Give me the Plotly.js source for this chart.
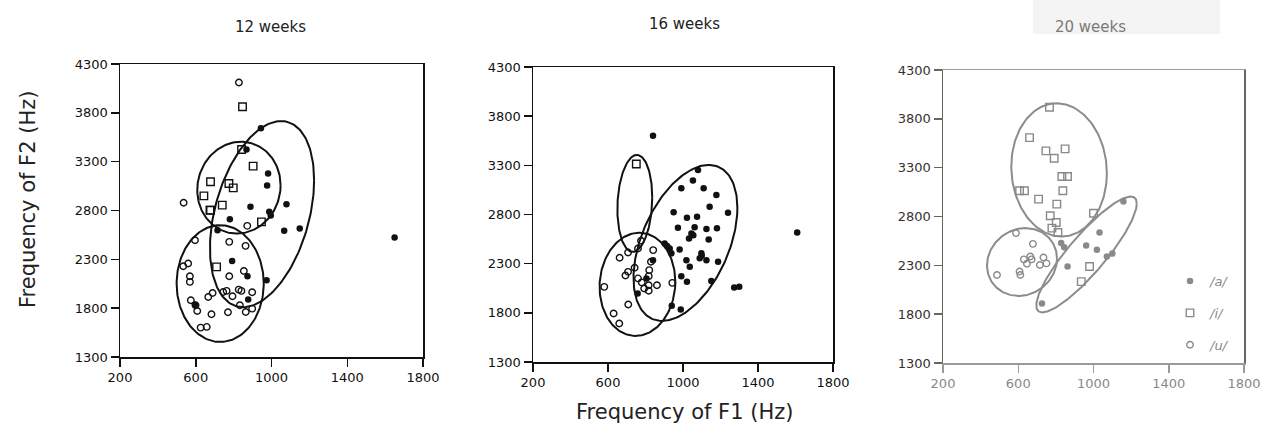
<!DOCTYPE html>
<html>
<head>
<meta charset="utf-8">
<script src="https://cdn.plot.ly/plotly-3.0.1.min.js"></script>
<style>
  html, body { margin: 0; padding: 0; background: #ffffff; }
  #chart { width: 1274px; height: 438px; }
</style>
</head>
<body>
<div id="chart"></div>
<script>
// ---------- DATA ----------
const panelTitles = ["12 weeks", "16 weeks", "20 weeks"];
const vowelNames = ["/a/", "/i/", "/u/"];
const f1TickVals = [200, 600, 1000, 1400, 1800];
const f2TickVals = [1300, 1800, 2300, 2800, 3300, 3800, 4300];

// 12 weeks
const a12F1 = [944, 868, 982, 977, 889, 1079, 988, 780, 715, 1067, 1149, 1650, 792, 873, 974, 877, 596, 996];
const a12F2 = [3641, 3425, 3179, 3056, 2838, 2865, 2786, 2711, 2598, 2592, 2615, 2523, 2284, 2127, 2086, 1888, 1836, 2750];
const i12F1 = [847, 842, 903, 678, 643, 775, 798, 740, 678, 947, 675, 710];
const i12F2 = [3863, 3425, 3254, 3094, 2950, 3077, 3032, 2855, 2803, 2684, 2804, 2223];
const u12F1 = [828, 536, 596, 777, 863, 872, 560, 534, 569, 569, 777, 854, 574, 599, 608, 666, 689, 745, 763, 794, 827, 841, 898, 833, 864, 898, 683, 770, 626, 658];
const u12F2 = [4110, 2880, 2496, 2479, 2438, 2643, 2257, 2229, 2127, 2069, 2127, 2181, 1881, 1830, 1771, 1915, 1956, 1966, 1977, 1922, 1990, 1977, 1963, 1830, 1761, 1795, 1737, 1758, 1601, 1608];

// 16 weeks
const a16F1 = [840, 1080, 1053, 991, 1110, 1178, 1142, 1240, 950, 1021, 1075, 973, 1062, 1045, 1032, 1125, 1181, 1137, 902, 929, 982, 1098, 1089, 1125, 1187, 1018, 1036, 991, 1021, 938, 805, 840, 758, 1273, 1300, 940, 988, 1609, 1151, 1055, 1100, 915];
const a16F2 = [3600, 3253, 3145, 3067, 3067, 2999, 2880, 2818, 2822, 2768, 2778, 2665, 2670, 2608, 2557, 2652, 2659, 2547, 2506, 2455, 2445, 2405, 2354, 2336, 2319, 2336, 2268, 2173, 2115, 2405, 2150, 2336, 1996, 2057, 2064, 1871, 1833, 2618, 2125, 2590, 2380, 2480];
const i16F1 = [751];
const i16F2 = [3314];
const u16F1 = [776, 841, 760, 707, 662, 829, 742, 707, 693, 820, 817, 861, 817, 793, 817, 943, 580, 708, 630, 660, 760, 780];
const u16F2 = [2533, 2438, 2455, 2414, 2360, 2319, 2258, 2217, 2180, 2234, 2173, 2081, 2081, 2047, 2024, 2105, 2064, 1884, 1793, 1691, 2150, 2110];

// 20 weeks
const a20F1 = [1159, 1032, 961, 1018, 1071, 828, 862, 844, 726, 1100];
const a20F2 = [2953, 2636, 2503, 2459, 2391, 2528, 2288, 2484, 1908, 2420];
const i20F1 = [766, 660, 747, 849, 791, 832, 862, 607, 633, 837, 708, 805, 770, 802, 779, 811, 1000, 979, 935];
const i20F2 = [3919, 3608, 3472, 3492, 3397, 3209, 3209, 3063, 3063, 3063, 2978, 2927, 2807, 2738, 2681, 2636, 2834, 2288, 2133];
const u20F1 = [588, 678, 664, 734, 646, 607, 487, 611, 715, 750, 630, 671];
const u20F2 = [2630, 2520, 2391, 2380, 2316, 2237, 2201, 2201, 2303, 2320, 2361, 2361];

// ellipses: [centre F1, centre F2, F1 spread, F2 spread, correlation]
const ell12 = [[950, 2763, 275, 953, 0.365], [828, 3034, 220, 470, 0.05], [729, 2052, 230, 598, 0.0]];
const ell16 = [[1013, 2511, 277, 793, 0.45], [743, 2913, 93, 493, 0.12], [757, 2090, 202, 525, 0.05]];
const ell20 = [[963, 2411, 267, 593, 0.88], [817, 3277, 254, 682, -0.05], [620, 2334, 186, 347, 0.1]];

// ---------- BUILD ----------
function ellipsePath(p) {
  const [cx, cy, sx, sy, rho] = p;
  const xs = [], ys = [];
  const k = Math.sqrt(1 - rho * rho);
  for (let j = 0; j <= 180; j++) {
    const t = 2 * Math.PI * j / 180;
    xs.push(cx + sx * Math.cos(t));
    ys.push(cy + sy * (rho * Math.cos(t) + k * Math.sin(t)));
  }
  return {xs, ys};
}

const panels = [
  {xa: "x", ya: "y", ell: ell12, pts: [[a12F1, a12F2], [i12F1, i12F2], [u12F1, u12F2]], col: "#111111", ecol: "#111111", legend: false},
  {xa: "x2", ya: "y2", ell: ell16, pts: [[a16F1, a16F2], [i16F1, i16F2], [u16F1, u16F2]], col: "#111111", ecol: "#111111", legend: false},
  {xa: "x3", ya: "y3", ell: ell20, pts: [[a20F1, a20F2], [i20F1, i20F2], [u20F1, u20F2]], col: "#8a8a8a", ecol: "#8c8c8c", legend: true}
];

const symbols = ["circle", "square-open", "circle-open"];
const sizes = [6.5, 7.5, 6.5];

const traces = [];
panels.forEach(p => {
  p.ell.forEach(e => {
    const el = ellipsePath(e);
    traces.push({x: el.xs, y: el.ys, xaxis: p.xa, yaxis: p.ya, mode: "lines",
      line: {color: p.ecol, width: 2}, hoverinfo: "skip", showlegend: false});
  });
  p.pts.forEach((d, k) => {
    traces.push({x: d[0], y: d[1], xaxis: p.xa, yaxis: p.ya, mode: "markers",
      name: vowelNames[k], legendgroup: "g" + k, showlegend: p.legend,
      marker: {symbol: symbols[k], size: sizes[k], color: p.col,
               line: {color: p.col, width: k === 0 ? 0 : 1.4}}});
  });
});

function xAx(domain, anchor, lc, tc) {
  return {domain, anchor, range: [200, 1800], tickvals: f1TickVals, ticktext: f1TickVals.map(String),
    showline: true, mirror: true, linecolor: lc, linewidth: 1.5, ticks: "outside", ticklen: 8,
    tickwidth: 1.5, tickcolor: lc, showgrid: false, zeroline: false,
    tickfont: {family: "DejaVu Sans", size: 13, color: tc}};
}
function yAx(domain, anchor, lc, tc) {
  return {domain, anchor, range: [1300, 4300], tickvals: f2TickVals, ticktext: f2TickVals.map(String),
    showline: true, mirror: true, linecolor: lc, linewidth: 1.5, ticks: "outside", ticklen: 8,
    tickwidth: 1.5, tickcolor: lc, showgrid: false, zeroline: false,
    tickfont: {family: "DejaVu Sans", size: 13, color: tc}};
}

const W = 1274, H = 438;
function ann(text, px, py, size, color, angle) {
  return {text, x: px / W, y: 1 - py / H, xref: "paper", yref: "paper", showarrow: false,
    xanchor: "center", yanchor: "middle", textangle: angle || 0,
    font: {family: "DejaVu Sans", size, color}};
}

const layout = {
  width: W, height: H, margin: {l: 0, r: 0, t: 0, b: 0},
  paper_bgcolor: "#ffffff", plot_bgcolor: "rgba(0,0,0,0)",
  xaxis: xAx([120 / W, 423 / W], "y", "#111", "#111"),
  yaxis: yAx([1 - 357 / H, 1 - 64 / H], "x", "#111", "#111"),
  xaxis2: xAx([533 / W, 833 / W], "y2", "#111", "#111"),
  yaxis2: yAx([1 - 362 / H, 1 - 67 / H], "x2", "#111", "#111"),
  xaxis3: xAx([943 / W, 1244 / W], "y3", "#9a9a9a", "#888"),
  yaxis3: yAx([1 - 363 / H, 1 - 70 / H], "x3", "#666", "#333"),
  showlegend: true,
  legend: {x: 1170 / W, y: 1 - 266 / H, xanchor: "left", yanchor: "top",
    bgcolor: "rgba(0,0,0,0)", tracegroupgap: 12, itemwidth: 30,
    font: {family: "DejaVu Sans", size: 13, color: "#8a8a8a", style: "italic"}},
  shapes: [
    {type: "rect", xref: "paper", yref: "paper", x0: 1033 / W, x1: 1220 / W, y0: 1 - 34 / H, y1: 1,
     fillcolor: "#f4f4f4", line: {width: 0}, layer: "below"}
  ],
  annotations: [
    ann(panelTitles[0], 270, 27, 15, "#222"),
    ann(panelTitles[1], 684, 24, 15, "#222"),
    ann(panelTitles[2], 1090, 27, 15, "#7a7a7a"),
    ann("Frequency of F2 (Hz)", 28, 200, 21, "#222", -90),
    ann("Frequency of F1 (Hz)", 684, 412, 21, "#222")
  ]
};

Plotly.newPlot("chart", traces, layout, {staticPlot: true, displayModeBar: false});
</script>
</body>
</html>
